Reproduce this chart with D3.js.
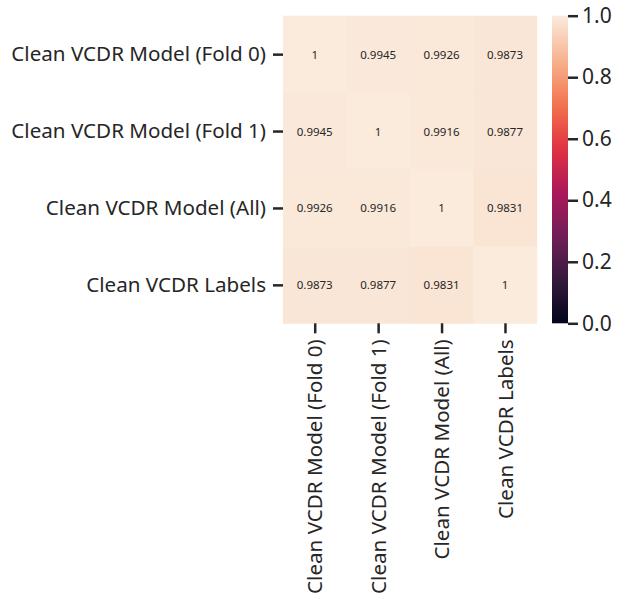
<!DOCTYPE html>
<html><head><meta charset="utf-8">
<script src="https://cdn.jsdelivr.net/npm/d3@7"></script>
<style>body{margin:0;background:#fff}svg{display:block}</style>
</head><body><svg id="c" width="619" height="597"></svg>
<script>
const rowLabels = ["Clean VCDR Model (Fold 0)", "Clean VCDR Model (Fold 1)", "Clean VCDR Model (All)", "Clean VCDR Labels"];
const colLabels = ["Clean VCDR Model (Fold 0)", "Clean VCDR Model (Fold 1)", "Clean VCDR Model (All)", "Clean VCDR Labels"];
const row0 = [1, 0.9945, 0.9926, 0.9873];
const row1 = [0.9945, 1, 0.9916, 0.9877];
const row2 = [0.9926, 0.9916, 1, 0.9831];
const row3 = [0.9873, 0.9877, 0.9831, 1];
const matrix = [row0, row1, row2, row3];
const colorTicks = [0.0, 0.2, 0.4, 0.6, 0.8, 1.0];
const rocketStops = ["#03051a", "#35193e", "#701f57", "#ad1759", "#e13342", "#f37651", "#f6b48f", "#faebdd"];

const svg = d3.select("#c");
const font = "'Noto Sans', sans-serif";
const ink = "#262626";
const L = 283, R = 536.7, T = 15.7, B = 323.3;

const color = d3.scaleLinear()
  .domain(rocketStops.map((_, i) => i / (rocketStops.length - 1)))
  .range(rocketStops).interpolate(d3.interpolateRgb).clamp(true);

const x = d3.scaleBand().domain(colLabels.map((_, i) => i)).range([L, R]);
const y = d3.scaleBand().domain(rowLabels.map((_, i) => i)).range([T, B]);

const cells = [];
matrix.forEach((r, i) => r.forEach((v, j) => cells.push({i, j, v})));

svg.append("g").selectAll("rect").data(cells).join("rect")
  .attr("x", d => x(d.j)).attr("y", d => y(d.i))
  .attr("width", x.bandwidth() + 0.5).attr("height", y.bandwidth() + 0.5)
  .attr("fill", d => color(d.v));

svg.append("g").selectAll("text").data(cells).join("text")
  .attr("x", d => x(d.j) + x.bandwidth() / 2)
  .attr("y", d => y(d.i) + y.bandwidth() / 2)
  .attr("text-anchor", "middle").attr("dominant-baseline", "central")
  .attr("font-family", font).attr("font-size", 11.5).attr("fill", ink)
  .text(d => d3.format("")(d.v));

// y axis
const yAxis = svg.append("g").attr("transform", `translate(${L},0)`)
  .call(d3.axisLeft(d3.scalePoint().domain(rowLabels).range([y(0) + y.bandwidth()/2, y(3) + y.bandwidth()/2])).tickSize(10).tickPadding(7));
yAxis.select(".domain").remove();
yAxis.selectAll(".tick line").attr("stroke", ink).attr("stroke-width", 2.5);
yAxis.selectAll(".tick text").attr("font-family", font).attr("font-size", 20.6).attr("fill", ink);

// x axis
const xAxis = svg.append("g").attr("transform", `translate(0,${B})`)
  .call(d3.axisBottom(d3.scalePoint().domain(colLabels).range([x(0) + x.bandwidth()/2, x(3) + x.bandwidth()/2])).tickSize(10).tickPadding(7));
xAxis.select(".domain").remove();
xAxis.selectAll(".tick line").attr("stroke", ink).attr("stroke-width", 2.5);
xAxis.selectAll(".tick text").attr("font-family", font).attr("font-size", 20.6).attr("fill", ink)
  .attr("transform", "rotate(-90)").attr("text-anchor", "end").attr("dy", "0.35em").attr("x", -16).attr("y", 0);

// colorbar
const CL = 552, CR = 568;
const cy = d3.scaleLinear().domain([0, 1]).range([B, T]);
const defs = svg.append("defs");
const grad = defs.append("linearGradient").attr("id", "cb").attr("x1", 0).attr("y1", 1).attr("x2", 0).attr("y2", 0);
d3.range(0, 1.0001, 0.02).forEach(t => grad.append("stop").attr("offset", t).attr("stop-color", color(t)));
svg.append("rect").attr("x", CL).attr("y", T).attr("width", CR - CL).attr("height", B - T).attr("fill", "url(#cb)");
const cAxis = svg.append("g").attr("transform", `translate(${CR},0)`)
  .call(d3.axisRight(cy).tickValues(colorTicks).tickFormat(d3.format(".1f")).tickSize(10).tickPadding(4));
cAxis.select(".domain").remove();
cAxis.selectAll(".tick line").attr("stroke", ink).attr("stroke-width", 2.5);
cAxis.selectAll(".tick text").attr("font-family", font).attr("font-size", 21).attr("fill", ink);
</script></body></html>
